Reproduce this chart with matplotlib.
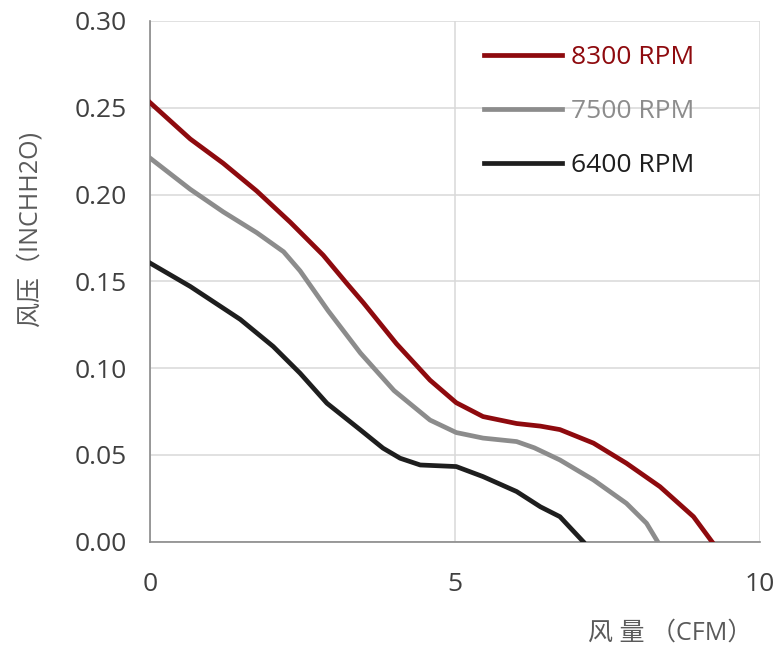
import matplotlib
matplotlib.use("Agg")
import matplotlib.pyplot as plt
from matplotlib.ticker import FormatStrFormatter

plt.rcParams['font.family'] = ['Open Sans', 'Noto Sans CJK SC', 'DejaVu Sans']

# values (CFM, INCHH2O)
x_8300 = [0, 0.66, 1.20, 1.75, 2.30, 2.84, 3.22, 3.50, 4.04, 4.59, 5.02, 5.46, 6.01, 6.40,
          6.72, 7.27, 7.81, 8.36, 8.91, 9.21]
y_8300 = [0.253, 0.232, 0.218, 0.202, 0.184, 0.165, 0.149, 0.1375, 0.114, 0.093, 0.080, 0.072, 0.068, 0.0665,
          0.0645, 0.0567, 0.0451, 0.0316, 0.0143, 0.0]

x_7500 = [0, 0.66, 1.20, 1.75, 2.19, 2.46, 2.68, 2.92, 3.45, 4.00, 4.59, 5.02, 5.46, 6.01,
          6.30, 6.72, 7.27, 7.81, 8.14, 8.32]
y_7500 = [0.221, 0.203, 0.190, 0.178, 0.167, 0.156, 0.145, 0.133, 0.1086, 0.087, 0.070, 0.0628, 0.0596, 0.0576,
          0.054, 0.047, 0.0355, 0.022, 0.0105, 0.0]

x_6400 = [0, 0.66, 1.48, 2.02, 2.46, 2.90, 3.45, 3.82, 4.10, 4.43, 5.02, 5.46, 6.01, 6.40,
          6.72, 7.10]
y_6400 = [0.1605, 0.147, 0.128, 0.1124, 0.097, 0.0797, 0.0643, 0.0538, 0.048, 0.0441, 0.0432, 0.0374, 0.0288, 0.020,
          0.0143, 0.0]

labels = ['8300 RPM', '7500 RPM', '6400 RPM']
colors = ['#8E0A0E', '#8C8C8C', '#1E1E1E']
x_ticks = [0, 5, 10]
y_ticks = [0.00, 0.05, 0.10, 0.15, 0.20, 0.25, 0.30]

fig = plt.figure(figsize=(7.82, 6.55), dpi=100)
ax = fig.add_axes([150 / 782, 113.5 / 655, 610 / 782, 520.5 / 655])

series = [(x_8300, y_8300), (x_7500, y_7500), (x_6400, y_6400)]
for (xs, ys), lab, col in zip(series, labels, colors):
    ax.plot(xs, ys, color=col, lw=3.4, label=lab, solid_joinstyle='round', zorder=3)

ax.set_xlim(0, 10)
ax.set_ylim(0, 0.30)
ax.set_xticks(x_ticks)
ax.set_yticks(y_ticks)
ax.yaxis.set_major_formatter(FormatStrFormatter('%.2f'))
ax.tick_params(length=0, labelsize=19, colors='#404040')
ax.tick_params(axis='y', pad=17)
ax.tick_params(axis='x', pad=22)

ax.grid(True, color='#D9D9D9', lw=1.1, zorder=0)
ax.set_axisbelow(True)
for s in ['top', 'right']:
    ax.spines[s].set_visible(False)
for s in ['left', 'bottom']:
    ax.spines[s].set_color('#8A8A8A')
    ax.spines[s].set_linewidth(1.2)

leg = ax.legend(loc='upper right', bbox_to_anchor=(0.932, 1.0), frameon=False,
                fontsize=19, handlelength=2.95, handletextpad=0.35, labelspacing=1.1)
for txt, col in zip(leg.get_texts(), colors):
    txt.set_color(col)

fig.text(30 / 782, (655 - 229) / 655, '风压（INCHH2O)', rotation=90, ha='center', va='center',
         fontsize=18, color='#5A5A5A')
fig.text(752 / 782, (655 - 633) / 655, '风 量 （CFM）', ha='right', va='center',
         fontsize=18, color='#5A5A5A')

fig.savefig('out.png', dpi=100, facecolor='white')
